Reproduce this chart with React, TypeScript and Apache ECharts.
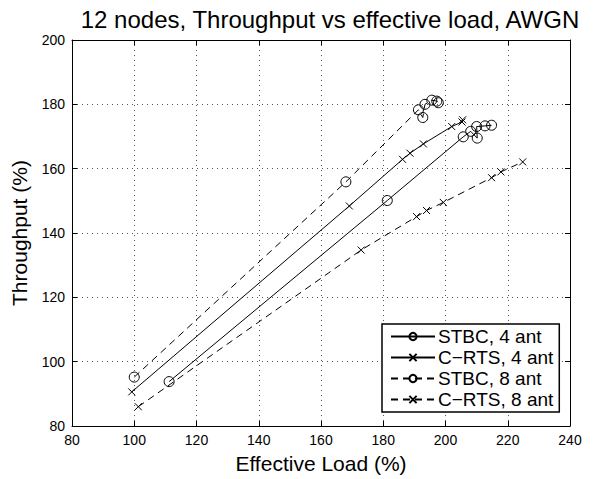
import React, { useEffect, useRef } from "react";
import * as echarts from "echarts";

const seriesNames = ["STBC, 4 ant", "C\u2212RTS, 4 ant", "STBC, 8 ant", "C\u2212RTS, 8 ant"];

const stbc4: [number, number][] = [
  [111.2, 93.8], [181.3, 150.1], [205.7, 169.9], [208.1, 171.6], [210.2, 169.5], [210.0, 173.1], [212.7, 173.3], [214.8, 173.5],
];
const crts4: [number, number][] = [
  [99.2, 90.6], [169.1, 148.4], [186.2, 162.9], [188.6, 164.8], [192.9, 167.7], [202.0, 173.1], [205.3, 174.5], [205.5, 175.2],
];
const stbc8: [number, number][] = [
  [100.0, 95.2], [168.0, 155.9], [191.3, 178.3], [192.7, 175.9], [193.4, 180.0], [195.6, 181.3], [197.2, 181.0], [197.7, 180.5],
];
const crts8: [number, number][] = [
  [101.3, 86.0], [172.9, 134.7], [190.7, 145.1], [193.9, 147.0], [199.3, 149.5], [214.8, 157.2], [217.8, 159.0], [224.8, 162.1],
];

const xMin = 80, xMax = 240, xStep = 20;
const yMin = 80, yMax = 200, yStep = 20;

const FONT = "'Liberation Sans', Arial, Helvetica, sans-serif";
const CROSS = "path://M0,0L10,10M10,0L0,10";

export default function App() {
  const ref = useRef<HTMLDivElement>(null);
  useEffect(() => {
    if (!ref.current) return;
    const chart = echarts.init(ref.current, null, { renderer: "svg" });
    const mk = (name: string, data: [number, number][], circle: boolean, dashed: boolean) => ({
      name,
      type: "line",
      data,
      symbol: circle ? "circle" : CROSS,
      symbolSize: circle ? 10 : 7,
      showAllSymbol: true,
      lineStyle: { color: "#000", width: 1, type: dashed ? [7, 5] : "solid" },
      itemStyle: { color: "transparent", borderColor: "#000", borderWidth: 1 },
      emphasis: { disabled: true },
      z: 3,
    });
    const axisCommon = {
      axisLine: { show: true, onZero: false, lineStyle: { color: "#000", width: 1 } },
      axisTick: { show: true, inside: true, length: 5, lineStyle: { color: "#000" } },
      splitLine: { show: false },
    };
    chart.setOption({
      animation: false,
      backgroundColor: "#fff",
      title: {
        text: "12 nodes, Throughput vs effective load, AWGN",
        left: 325,
        textAlign: "center",
        top: 2,
        textStyle: { fontFamily: FONT, fontSize: 24, fontWeight: "normal", color: "#000" },
      },
      legend: {
        orient: "vertical",
        left: 382,
        top: 324,
        padding: [3, 6, 3, 8],
        itemGap: 2,
        itemWidth: 44,
        itemHeight: 9,
        backgroundColor: "#fff",
        borderColor: "#000",
        borderWidth: 1.5,
        borderRadius: 0,
        textStyle: { fontFamily: FONT, fontSize: 19, lineHeight: 19, color: "#000", padding: [0, 0, 0, -2] },
        data: seriesNames,
      },
      grid: { left: 72, top: 40, right: 34, bottom: 49, containLabel: false },
      xAxis: [
        {
          type: "value", min: xMin, max: xMax, interval: xStep,
          name: "Effective Load (%)", nameLocation: "middle", nameGap: 27,
          nameTextStyle: { fontFamily: FONT, fontSize: 21, color: "#000" },
          axisLabel: { fontFamily: FONT, fontSize: 14, color: "#000", margin: 7 },
          ...axisCommon,
          splitLine: { show: true, lineStyle: { color: "#555", type: [1, 4], width: 1 } },
        },
        {
          type: "value", position: "top", min: xMin, max: xMax, interval: xStep,
          axisLabel: { show: false }, ...axisCommon,
        },
      ],
      yAxis: [
        {
          type: "value", min: yMin, max: yMax, interval: yStep,
          name: "Throughput (%)", nameLocation: "middle", nameGap: 42,
          nameTextStyle: { fontFamily: FONT, fontSize: 21, color: "#000" },
          axisLabel: { fontFamily: FONT, fontSize: 14, color: "#000", margin: 7 },
          ...axisCommon,
          splitLine: { show: true, lineStyle: { color: "#555", type: [1, 4], width: 1 } },
        },
        {
          type: "value", position: "right", min: yMin, max: yMax, interval: yStep,
          axisLabel: { show: false }, ...axisCommon,
        },
      ],
      series: [
        mk(seriesNames[0], stbc4, true, false),
        mk(seriesNames[1], crts4, false, false),
        mk(seriesNames[2], stbc8, true, true),
        mk(seriesNames[3], crts8, false, true),
      ],
    });
    return () => chart.dispose();
  }, []);
  return <div ref={ref} style={{ width: 604, height: 479, position: "absolute", left: 0, top: 0 }} />;
}
